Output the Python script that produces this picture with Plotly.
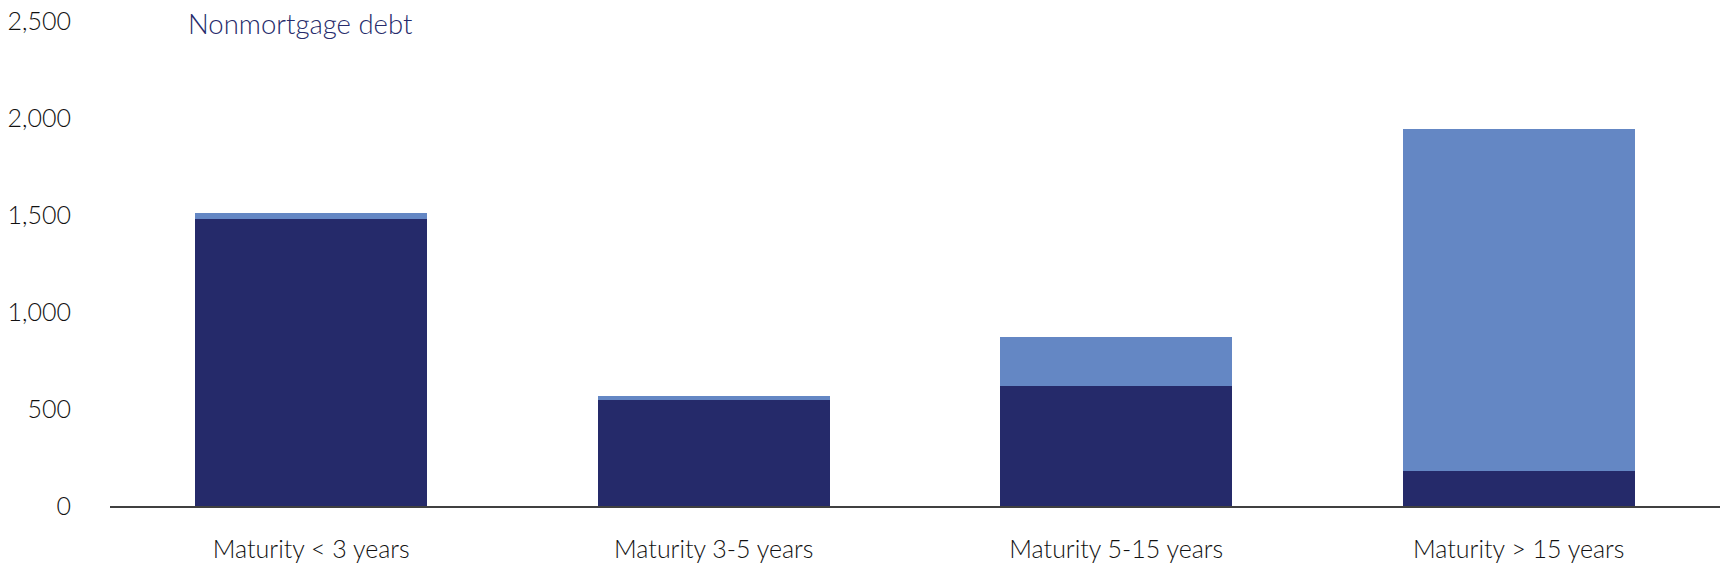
import plotly.graph_objects as go

categories = ["Maturity < 3 years", "Maturity 3-5 years", "Maturity 5-15 years", "Maturity > 15 years"]
dark_values = [1480, 547, 620, 182]
light_values = [30, 22, 252, 1760]
y_ticks = [0, 500, 1000, 1500, 2000, 2500]
y_tick_labels = ["0", "500", "1,000", "1,500", "2,000", "2,500"]
title_text = "Nonmortgage debt"

DARK = "#252a6a"
LIGHT = "#6487c4"
FONT = "Lato"

fig = go.Figure()
fig.add_trace(go.Bar(x=categories, y=dark_values, marker=dict(color=DARK, line=dict(width=0)), showlegend=False))
fig.add_trace(go.Bar(x=categories, y=light_values, marker=dict(color=LIGHT, line=dict(width=0)), showlegend=False))

fig.update_layout(
    barmode="stack",
    bargap=0.424,
    width=1732,
    height=584,
    margin=dict(l=110, r=12, t=21, b=78, autoexpand=False),
    plot_bgcolor="white",
    paper_bgcolor="white",
    font=dict(family=FONT, size=24, color="#111111"),
    xaxis=dict(
        showgrid=False,
        showline=True,
        linecolor="#404040",
        linewidth=2,
        ticks="",
        automargin=False,
        ticklabelstandoff=20,
        tickfont=dict(family=FONT, size=25, color="#111111", weight=300),
    ),
    yaxis=dict(
        range=[0, 2500],
        tickvals=y_ticks,
        ticktext=y_tick_labels,
        showgrid=False,
        zeroline=False,
        showline=False,
        ticks="",
        automargin=False,
        ticklabelstandoff=38,
        ticklabeloverflow="allow",
        tickfont=dict(family=FONT, size=25, color="#111111", weight=300),
    ),
    annotations=[
        dict(
            text=title_text,
            xref="paper",
            yref="y",
            x=0.047,
            y=2500,
            yshift=-2,
            xanchor="left",
            yanchor="middle",
            showarrow=False,
            font=dict(family=FONT, size=27.5, color="#262b6b", weight=300),
        )
    ],
)

fig.write_html(
    "out.html",
    config={"displayModeBar": False},
    post_script="document.body.style.margin='0';document.body.style.overflow='hidden';",
)
